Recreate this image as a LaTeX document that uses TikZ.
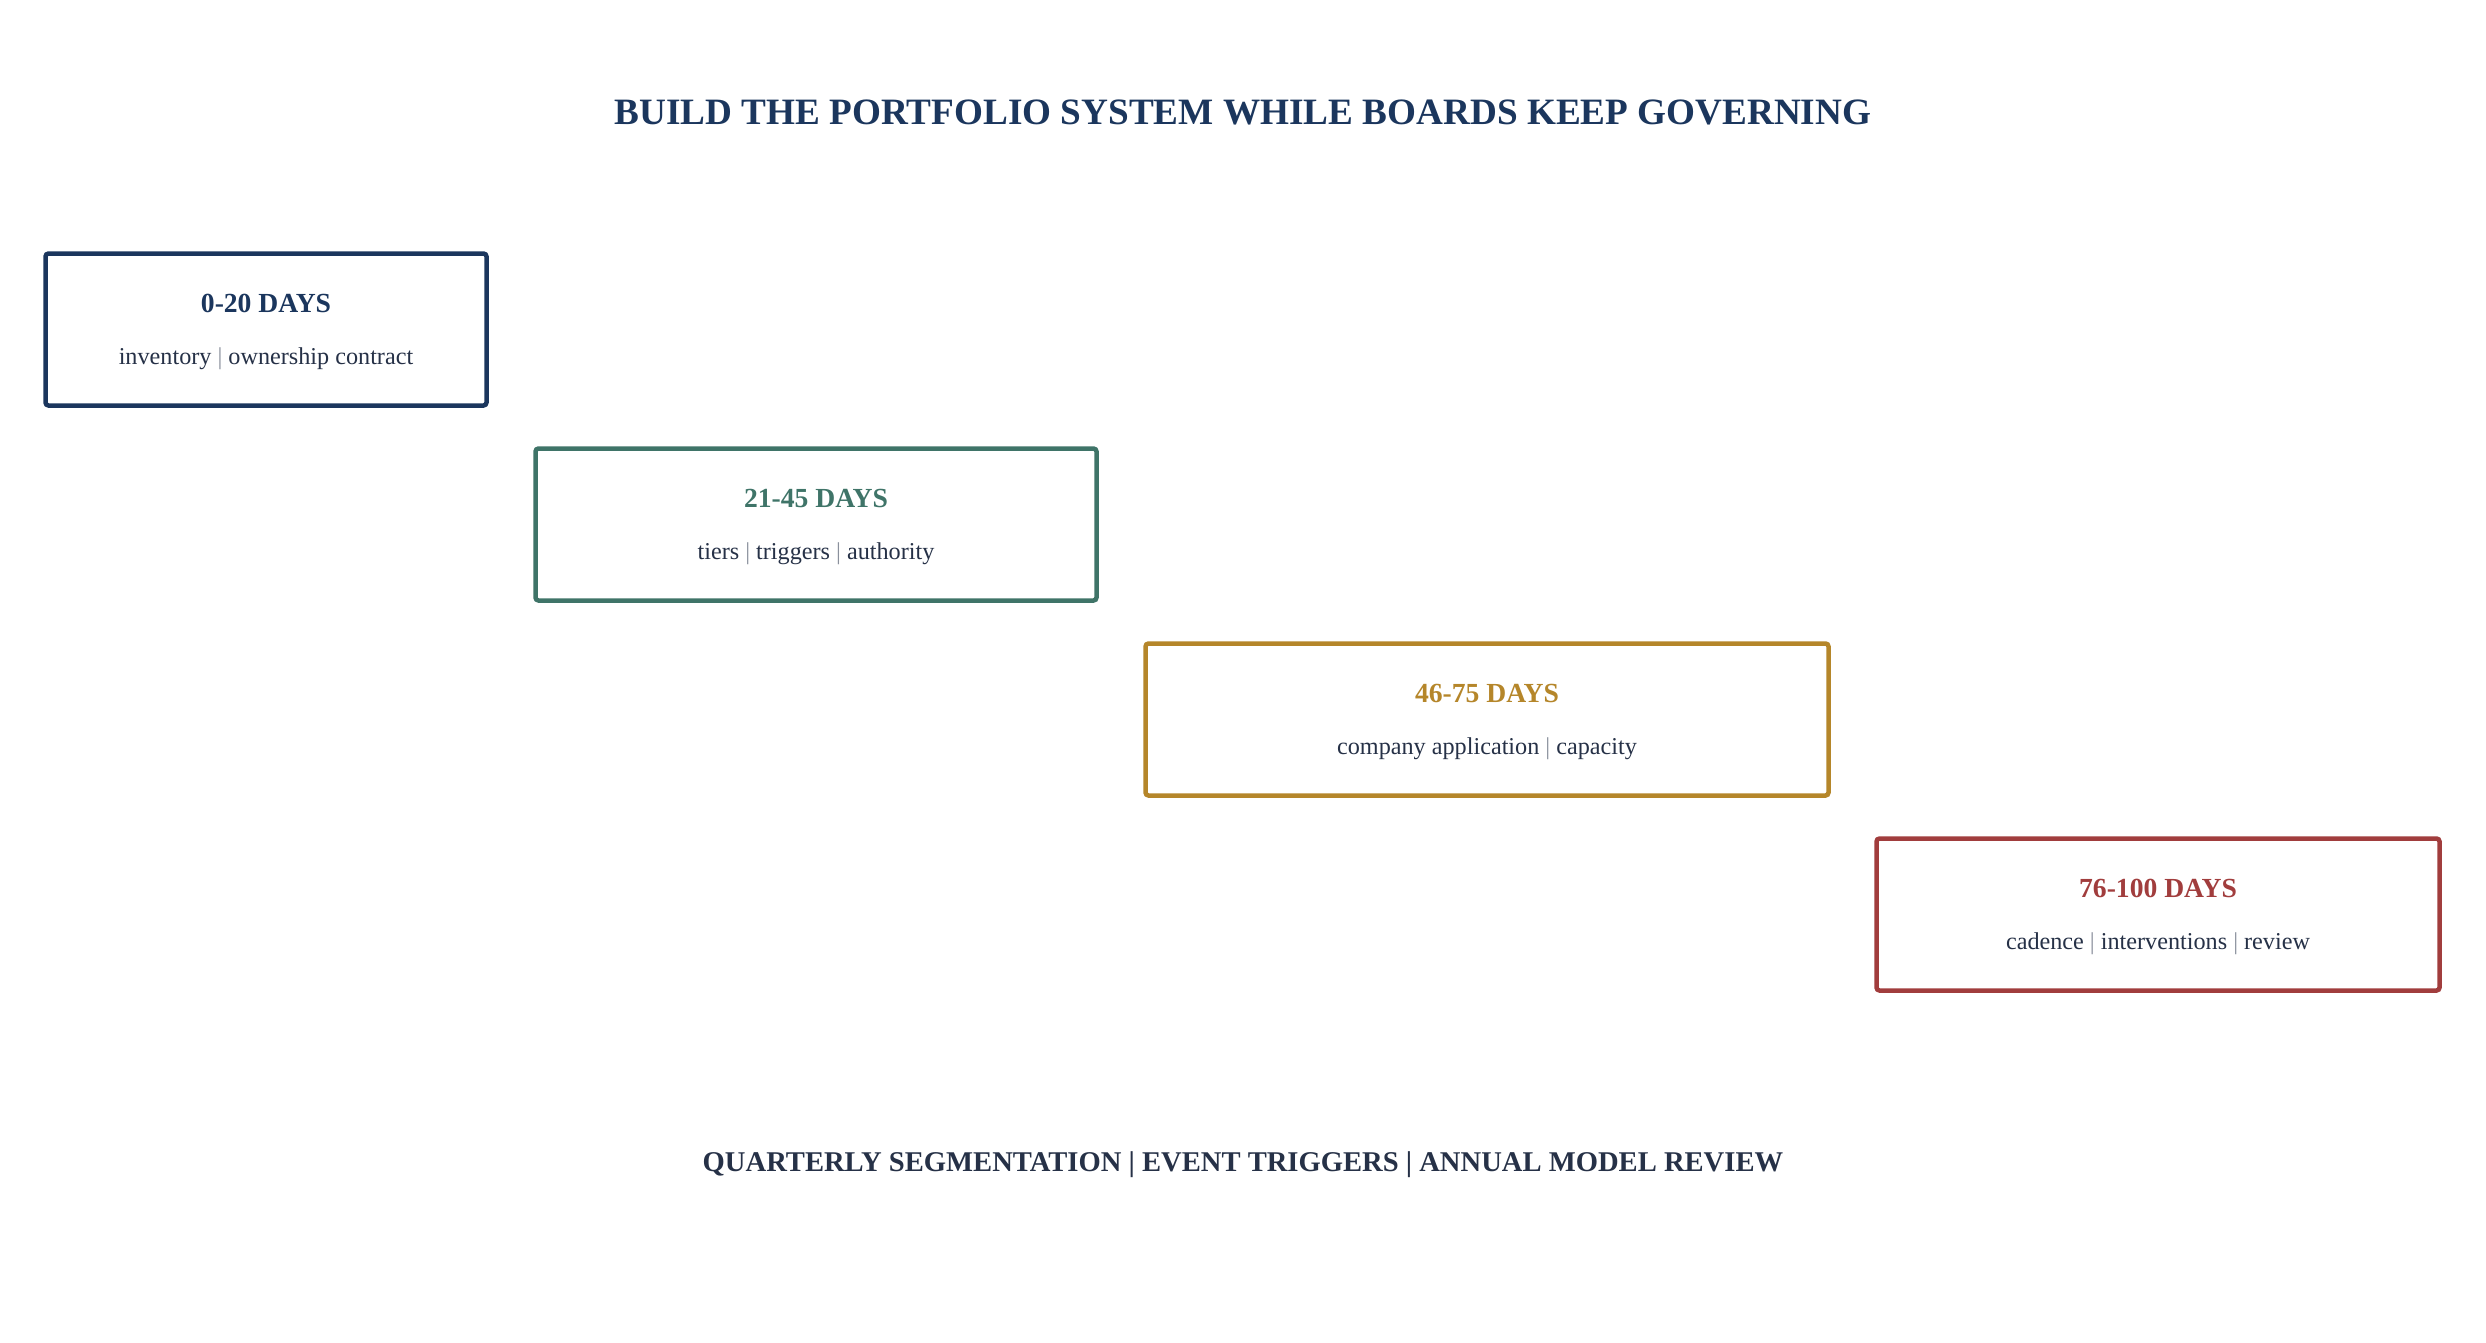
\documentclass[tikz,border=0pt]{standalone}
\usepackage{fontspec}
\setmainfont{Liberation Serif}
\definecolor{navy}{HTML}{1B365D}
\definecolor{teal}{HTML}{3F7468}
\definecolor{gold}{HTML}{B5862A}
\definecolor{brick}{HTML}{A13D3D}
\definecolor{ink}{HTML}{263147}
\definecolor{bar}{HTML}{8A909C}
\newcommand{\sepbar}{{\color{bar}|}}
\tikzset{
  phasebox/.style={draw, line width=4.5pt, rounded corners=3pt, fill=white, minimum width=#1, minimum height=152pt, inner sep=0pt},
  phasetitle/.style={anchor=base, inner sep=0pt, font=\fontsize{27.6}{32}\selectfont\bfseries},
  phasesub/.style={anchor=base, inner sep=0pt, text=ink, font=\fontsize{24.2}{28}\selectfont},
  headline/.style={anchor=base, inner sep=0pt, text=navy, font=\fontsize{37.2}{44}\selectfont\bfseries},
  footline/.style={anchor=base, inner sep=0pt, text=ink, font=\fontsize{28.6}{34}\selectfont\bfseries}
}
\begin{document}
\begin{tikzpicture}[x=1pt,y=-1pt]
\useasboundingbox (0,0) rectangle (2486,1342);
\fill[white] (0,0) rectangle (2486,1342);
\node[headline] (title) at (1243,124) {BUILD THE PORTFOLIO SYSTEM WHILE BOARDS KEEP GOVERNING};

\node[phasebox=441pt, draw=navy] (p1) at (266,329.5) {};
\node[phasetitle, text=navy] (p1t) at (266,312) {0-20 DAYS};
\node[phasesub] (p1s) at (266,364) {inventory \sepbar{} ownership contract};

\node[phasebox=561pt, draw=teal] (p2) at (816,524.5) {};
\node[phasetitle, text=teal] (p2t) at (816,507) {21-45 DAYS};
\node[phasesub] (p2s) at (816,559) {tiers \sepbar{} triggers \sepbar{} authority};

\node[phasebox=683pt, draw=gold] (p3) at (1487,719.5) {};
\node[phasetitle, text=gold] (p3t) at (1487,702) {46-75 DAYS};
\node[phasesub] (p3s) at (1487,754) {company application \sepbar{} capacity};

\node[phasebox=563pt, draw=brick] (p4) at (2158,914.5) {};
\node[phasetitle, text=brick] (p4t) at (2158,897) {76-100 DAYS};
\node[phasesub] (p4s) at (2158,949) {cadence \sepbar{} interventions \sepbar{} review};

\node[footline] (foot) at (1243,1171) {QUARTERLY SEGMENTATION | EVENT TRIGGERS | ANNUAL MODEL REVIEW};
\end{tikzpicture}
\end{document}
